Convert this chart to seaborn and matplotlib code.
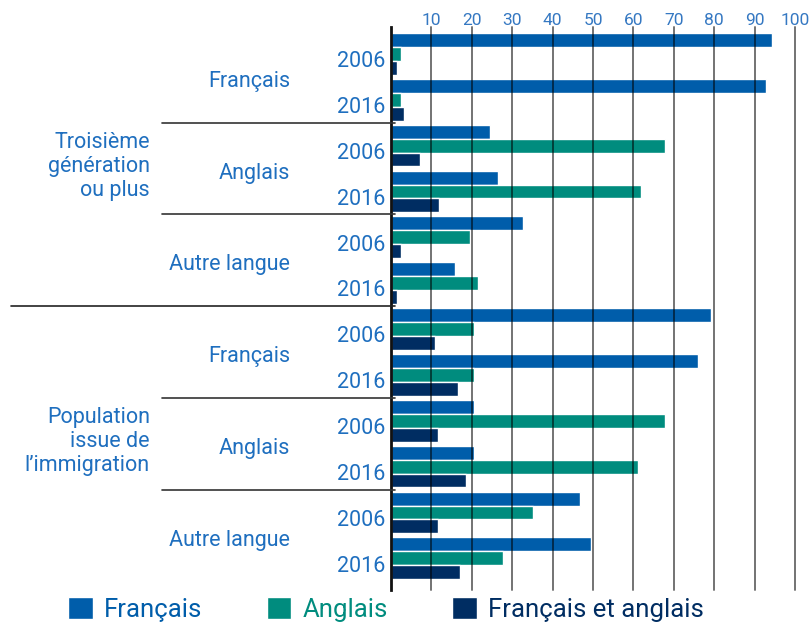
import numpy as np
import pandas as pd
import seaborn as sns
import matplotlib.pyplot as plt
import matplotlib.transforms as mtransforms
from matplotlib.lines import Line2D

# %%
generations = ["Troisième\ngénération\nou plus", "Population\nissue de\nl’immigration"]
langues = ["Français", "Anglais", "Autre langue"]
annees = ["2006", "2016"]
series = ["Français", "Anglais", "Français et anglais"]

# one value per row: generation > langue > annee
francais = [94.2, 92.7, 24.6, 26.5, 32.6, 15.8, 79.3, 76.1, 20.6, 20.6, 46.7, 49.4]
anglais = [2.5, 2.5, 67.7, 62.0, 19.6, 21.6, 20.6, 20.6, 67.9, 61.1, 35.2, 27.6]
fr_et_ang = [1.5, 3.3, 7.2, 11.8, 2.4, 1.5, 10.9, 16.6, 11.6, 18.6, 11.6, 17.0]

couleurs = ["#005DAA", "#008C7E", "#002D62"]
texte_bleu = "#1F6FBF"

# %%
rows = []
for g in range(2):
    for l in range(3):
        for a in range(2):
            rows.append(f"{g}-{l}-{a}")

df = pd.DataFrame({
    "row": rows * 3,
    "serie": np.repeat(series, len(rows)),
    "valeur": francais + anglais + fr_et_ang,
})

sns.set_style("white")
plt.rcParams["font.family"] = ["Roboto", "DejaVu Sans"]

fig = plt.figure(figsize=(8.09, 6.26), dpi=100)
ax = fig.add_axes([391 / 809, 36 / 626, 404 / 809, 563 / 626])

sns.barplot(data=df, y="row", x="valeur", hue="serie", order=rows,
            hue_order=series, palette=couleurs, orient="h", width=0.91,
            saturation=1, ax=ax, zorder=2)

ax.set_xlim(0, 100)
ax.set_ylim(11.69, -0.586)
ax.set_xlabel("")
ax.set_ylabel("")
ax.set_xticks(range(10, 101, 10))
ax.xaxis.tick_top()
ax.tick_params(axis="x", top=False, bottom=False, labeltop=True,
               labelbottom=False, length=0, pad=-1, labelsize=12.5,
               labelcolor="#3578C2")
ax.tick_params(axis="y", left=False, labelleft=False)
for x in range(10, 101, 10):
    ax.axvline(x, color="black", alpha=0.55, lw=1.4, zorder=3, clip_on=False)
for s in ["top", "right", "bottom"]:
    ax.spines[s].set_visible(False)
ax.spines["left"].set_color("#111111")
ax.spines["left"].set_linewidth(2)
ax.spines["left"].set_zorder(4)

# labels on the left
tr = mtransforms.blended_transform_factory(fig.transFigure, ax.transData)
for i, r in enumerate(rows):
    a = int(r.split("-")[2])
    fig.text(385 / 809, i + 0.17, annees[a], transform=tr, ha="right",
             va="center", fontsize=15.5, color=texte_bleu)
for g in range(2):
    for l in range(3):
        y0 = g * 6 + l * 2
        fig.text(290 / 809, y0 + 0.6, langues[l], transform=tr, ha="right",
                 va="center", fontsize=15.5, color=texte_bleu)
    fig.text(150 / 809, g * 6 + 2.45, generations[g], transform=tr,
             ha="right", va="center", fontsize=15.5, color=texte_bleu,
             multialignment="right", linespacing=1.2)

# separators
for y in [1.5, 3.5, 7.5, 9.5]:
    fig.add_artist(Line2D([162 / 809, 395 / 809], [y, y], transform=tr,
                          color="#333333", lw=1.2))
fig.add_artist(Line2D([11 / 809, 395 / 809], [5.5, 5.5], transform=tr,
                      color="#222222", lw=1.2))

# legend
ax.legend_.remove()
handles, labels = ax.get_legend_handles_labels()
leg = fig.legend(handles, labels, loc="center left", ncol=3,
                 bbox_to_anchor=(58 / 809, 0.026), frameon=False,
                 fontsize=18.5, handlelength=0.95, handleheight=0.95,
                 handletextpad=0.45, columnspacing=2.5, borderaxespad=0)
for t, c in zip(leg.get_texts(), couleurs):
    t.set_color(c)

fig.savefig("out.png", dpi=100)
